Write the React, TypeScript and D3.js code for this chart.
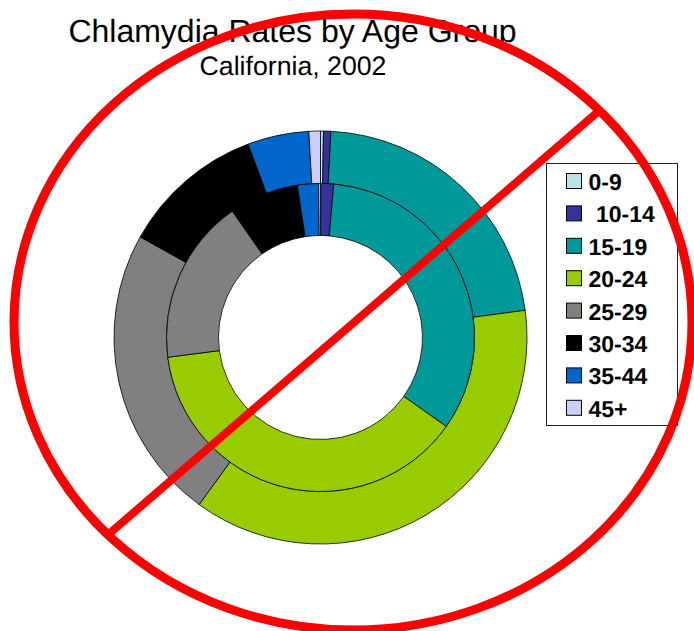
import React from "react";
import * as d3 from "d3";

const categories = ["0-9", "10-14", "15-19", "20-24", "25-29", "30-34", "35-44", "45+"];
const colors = ["#BBE3E3", "#333399", "#009999", "#99CC00", "#808080", "#000000", "#0066CC", "#CCCCFF"];
const outerValues = [0.23, 0.57, 22.1, 37.1, 23.1, 11.2, 4.8, 0.9];
const innerValues = [0.02, 1.35, 33.43, 38.15, 17.35, 7.3, 2.2, 0.2];

const cx = 320.5;
const cy = 337.5;
const innerHole = 102;
const midR = 154;
const outerR = 206.5;

export default function App() {
  const pie = d3.pie<number>().sort(null);
  const outerArc = d3.arc<d3.PieArcDatum<number>>().innerRadius(midR).outerRadius(outerR);
  const innerArc = d3.arc<d3.PieArcDatum<number>>().innerRadius(innerHole).outerRadius(midR);
  const font = "'Liberation Sans', Arial, sans-serif";
  return (
    <svg width={694} height={631} style={{ position: "absolute", left: 0, top: 0, textRendering: "geometricPrecision" }}>
      <text x={292.5} y={42} textAnchor="middle" fontFamily={font} fontSize={32}>Chlamydia Rates by Age Group</text>
      <text x={293} y={75} textAnchor="middle" fontFamily={font} fontSize={26.7}>California, 2002</text>
      <g transform={`translate(${cx},${cy})`}>
        {pie(outerValues).map((d, i) => (
          <path key={i} d={outerArc(d) ?? ""} fill={colors[i]} stroke="#000" strokeWidth={0.8} />
        ))}
        {pie(innerValues).map((d, i) => (
          <path key={i} d={innerArc(d) ?? ""} fill={colors[i]} stroke="#000" strokeWidth={0.8} />
        ))}
      </g>
      <rect x={546.5} y={163.5} width={131} height={262} fill="#fff" stroke="#222" strokeWidth={1} />
      {categories.map((c, i) => (
        <g key={c}>
          <rect x={566.5} y={173.5 + i * 32.4} width={15} height={15} fill={colors[i]} stroke="#000" strokeWidth={1} />
          <text x={c === "10-14" ? 596 : 588.5} y={190 + i * 32.4} fontFamily={font} fontSize={23} fontWeight="bold">{c}</text>
        </g>
      ))}
      <ellipse cx={353} cy={322} rx={339} ry={308} fill="none" stroke="#FF0000" strokeWidth={9} />
      <line x1={110} y1={533} x2={600} y2={110} stroke="#FF0000" strokeWidth={8} />
    </svg>
  );
}
